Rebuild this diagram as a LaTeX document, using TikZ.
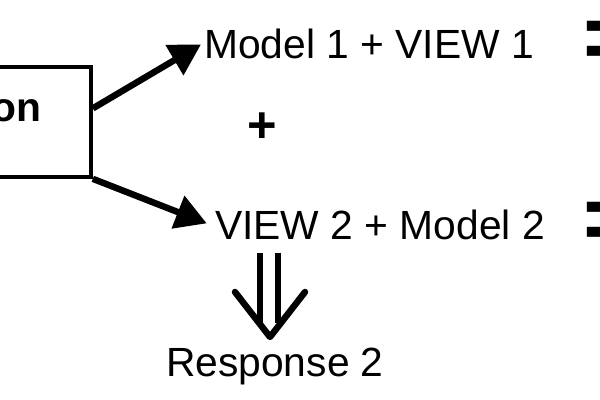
\documentclass[tikz,border=0pt]{standalone}
\usepackage{fontspec}
\setmainfont{Liberation Sans}
\usetikzlibrary{arrows.meta,calc}

\begin{document}
\begin{tikzpicture}[x=0.025cm,y=-0.025cm,>={Triangle[length=22pt,width=24pt]},inner sep=2pt,
  font=\fontsize{29}{34}\selectfont,
  fat/.style={line width=4.6pt}]
\useasboundingbox (0,0) rectangle (600,400);
% box cut by the left edge
\node[draw,line width=2.6pt,minimum width=3.775cm,minimum height=2.75cm] (app) at (15.5,122) {};
\node[anchor=base east,font=\fontsize{29}{34}\selectfont\bfseries] (on) at (44,122) {on};
\node[anchor=base west] (m1) at (201,59) {Model 1 + VIEW 1};
\node[font=\fontsize{36}{40}\selectfont\bfseries] (plus) at (262,128) {+};
\node[anchor=base west] (v2) at (212,240) {VIEW 2 + Model 2};
\node[anchor=base west] (r2) at (163,377) {Response 2};
\node[anchor=west,inner sep=0pt,font=\fontsize{66}{66}\selectfont\bfseries] (eq1) at (583,45) {=};
\node[anchor=west,inner sep=0pt,font=\fontsize{66}{66}\selectfont\bfseries] (eq2) at (583,226) {=};
\draw[fat,->] (app.10) -- (m1.west);
\draw[fat,->,shorten >=4pt] (app.south east) -- (v2.west);
% implies arrow down
\coordinate (dtop) at (269,253);
\coordinate (dtip) at (270,337);
\draw[fat,double,double distance=8.5pt] (dtop) -- ($(dtip)+(-1,-14)$);
\draw[fat,line cap=round,line join=round] ($(dtip)+(-35,-45)$) -- (dtip) -- ($(dtip)+(35,-45)$);
\end{tikzpicture}
\end{document}
